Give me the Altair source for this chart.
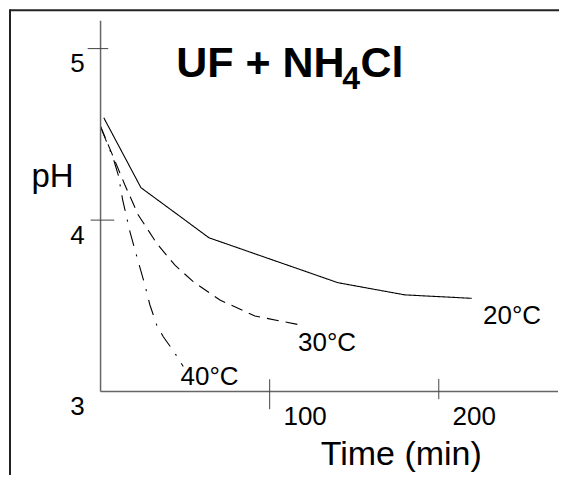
import altair as alt
import pandas as pd

# ---- data ----
t20 = [1.9, 23.9, 45.3, 64.1, 140.4, 180.0, 219.5]
ph20 = [4.597, 4.189, 4.034, 3.897, 3.635, 3.564, 3.544]
t30 = [0.1, 7.5, 14.4, 22.3, 33.2, 44.0, 54.8, 70.6, 91.3, 117.9]
ph30 = [4.544, 4.369, 4.205, 4.030, 3.865, 3.737, 3.641, 3.534, 3.441, 3.389]
t40 = [0.0, 7.5, 10.5, 13.1, 17.4, 20.9, 26.2, 29.2, 33.2, 37.1, 44.0, 48.9]
ph40 = [4.544, 4.360, 4.263, 4.117, 3.932, 3.807, 3.622, 3.505, 3.389, 3.320, 3.224, 3.146]

series_names = ["20°C", "30°C", "40°C"]
label_t = [226.2, 116.8, 47.3]
label_ph = [3.395, 3.237, 3.039]

y_ticks = [3, 4, 5]
y_tick_labels = ["3", "4", "5"]
x_ticks = [100, 200]
x_tick_labels = ["100", "200"]

title_main = "UF + NH"
title_sub = "4"
title_end = "Cl"
x_title = "Time (min)"
y_title = "pH"

# ---- tables ----
rows = []
for name, ts, ps in zip(series_names, [t20, t30, t40], [ph20, ph30, ph40]):
    for t, p in zip(ts, ps):
        rows.append({"series": name, "t": t, "ph": p})
lines_df = pd.DataFrame(rows)
labels_df = pd.DataFrame({"series": series_names, "t": label_t, "ph": label_ph})
yt_df = pd.DataFrame({"v": y_ticks, "lab": y_tick_labels})
xt_df = pd.DataFrame({"v": x_ticks, "lab": x_tick_labels})
one = pd.DataFrame({"k": [0]})

W, H = 457.7, 371
FONT = "Liberation Sans"

xs = alt.Scale(domain=[0, 270.5], nice=False, zero=False)
ys = alt.Scale(domain=[3, 5.162], nice=False, zero=False)

lines = alt.Chart(lines_df).mark_line(color="black", strokeWidth=1.1).encode(
    x=alt.X("t:Q", scale=xs, axis=None),
    y=alt.Y("ph:Q", scale=ys, axis=None),
    strokeDash=alt.StrokeDash(
        "series:N",
        scale=alt.Scale(domain=series_names, range=[[1, 0], [12, 7], [16, 9, 2, 9]]),
        legend=None,
    ),
)

series_labels = alt.Chart(labels_df).mark_text(
    align="left", baseline="alphabetic", font=FONT, fontSize=26, color="black"
).encode(
    x=alt.X("t:Q", scale=xs, axis=None),
    y=alt.Y("ph:Q", scale=ys, axis=None),
    text="series:N",
)

# axis lines
y_axis = alt.Chart(one).mark_rule(color="#666", strokeWidth=1.5).encode(
    x=alt.value(0), y=alt.value(0), y2=alt.value(H)
)
x_axis = alt.Chart(one).mark_rule(color="#666", strokeWidth=1.5).encode(
    x=alt.value(0), x2=alt.value(W), y=alt.value(H)
)

# ticks crossing the axes
def ytick(i, x0, x1):
    d = pd.DataFrame({"v": [y_ticks[i]]})
    return alt.Chart(d).mark_rule(color="#444", strokeWidth=1).encode(
        y=alt.Y("v:Q", scale=ys, axis=None), x=alt.value(x0), x2=alt.value(x1)
    )

def xtick(i, y0, y1):
    d = pd.DataFrame({"v": [x_ticks[i]]})
    return alt.Chart(d).mark_rule(color="#444", strokeWidth=1).encode(
        x=alt.X("v:Q", scale=xs, axis=None), y=alt.value(y0), y2=alt.value(y1)
    )

ticks = [ytick(2, -12.9, 7.7), ytick(1, -9.9, 13.7), xtick(0, 358.6, 388.6), xtick(1, 358.3, 378.6)]

y_labels = alt.Chart(yt_df).mark_text(
    align="center", baseline="alphabetic", font=FONT, fontSize=26, color="black", dy=23.5
).encode(
    x=alt.value(-23.1), y=alt.Y("v:Q", scale=ys, axis=None), text="lab:N"
)
x_labels = alt.Chart(xt_df).mark_text(
    align="center", baseline="alphabetic", font=FONT, fontSize=26, color="black", dx=35.5
).encode(
    x=alt.X("v:Q", scale=xs, axis=None), y=alt.value(404.3), text="lab:N"
)

xt = alt.Chart(one).mark_text(
    text=x_title, align="center", baseline="alphabetic", font=FONT, fontSize=34, color="black"
).encode(x=alt.value(300.9), y=alt.value(444.3))
yt = alt.Chart(one).mark_text(
    text=y_title, align="center", baseline="alphabetic", font=FONT, fontSize=33, color="black"
).encode(x=alt.value(-48.1), y=alt.value(166))

t1 = alt.Chart(one).mark_text(
    text=title_main, align="right", baseline="alphabetic", font=FONT, fontSize=43,
    fontWeight="bold", color="black"
).encode(x=alt.value(244.1), y=alt.value(56.6))
t2 = alt.Chart(one).mark_text(
    text=title_sub, align="left", baseline="alphabetic", font=FONT, fontSize=32,
    fontWeight="bold", color="black"
).encode(x=alt.value(241.9), y=alt.value(68.6))
t3 = alt.Chart(one).mark_text(
    text=title_end, align="left", baseline="alphabetic", font=FONT, fontSize=43,
    fontWeight="bold", color="black"
).encode(x=alt.value(260.1), y=alt.value(56.6))

# frame (top and left edges)
frame_top = alt.Chart(one).mark_rule(color="#222", strokeWidth=2).encode(
    x=alt.value(-90.6), x2=alt.value(470), y=alt.value(-10.7)
)
frame_left = alt.Chart(one).mark_rule(color="#222", strokeWidth=2).encode(
    x=alt.value(-90.6), y=alt.value(-11.7), y2=alt.value(480)
)

chart = alt.layer(
    lines, series_labels, frame_top, frame_left, y_axis, x_axis, *ticks,
    y_labels, x_labels, xt, yt, t1, t2, t3,
).properties(
    width=W, height=H,
    autosize=alt.AutoSizeParams(type="none"),
    padding={"left": 92.6, "top": 12.7, "right": 1, "bottom": 83.3},
    background="white",
).configure_view(strokeWidth=0)

chart.save("out.html", embed_options={"renderer": "svg", "actions": False})
